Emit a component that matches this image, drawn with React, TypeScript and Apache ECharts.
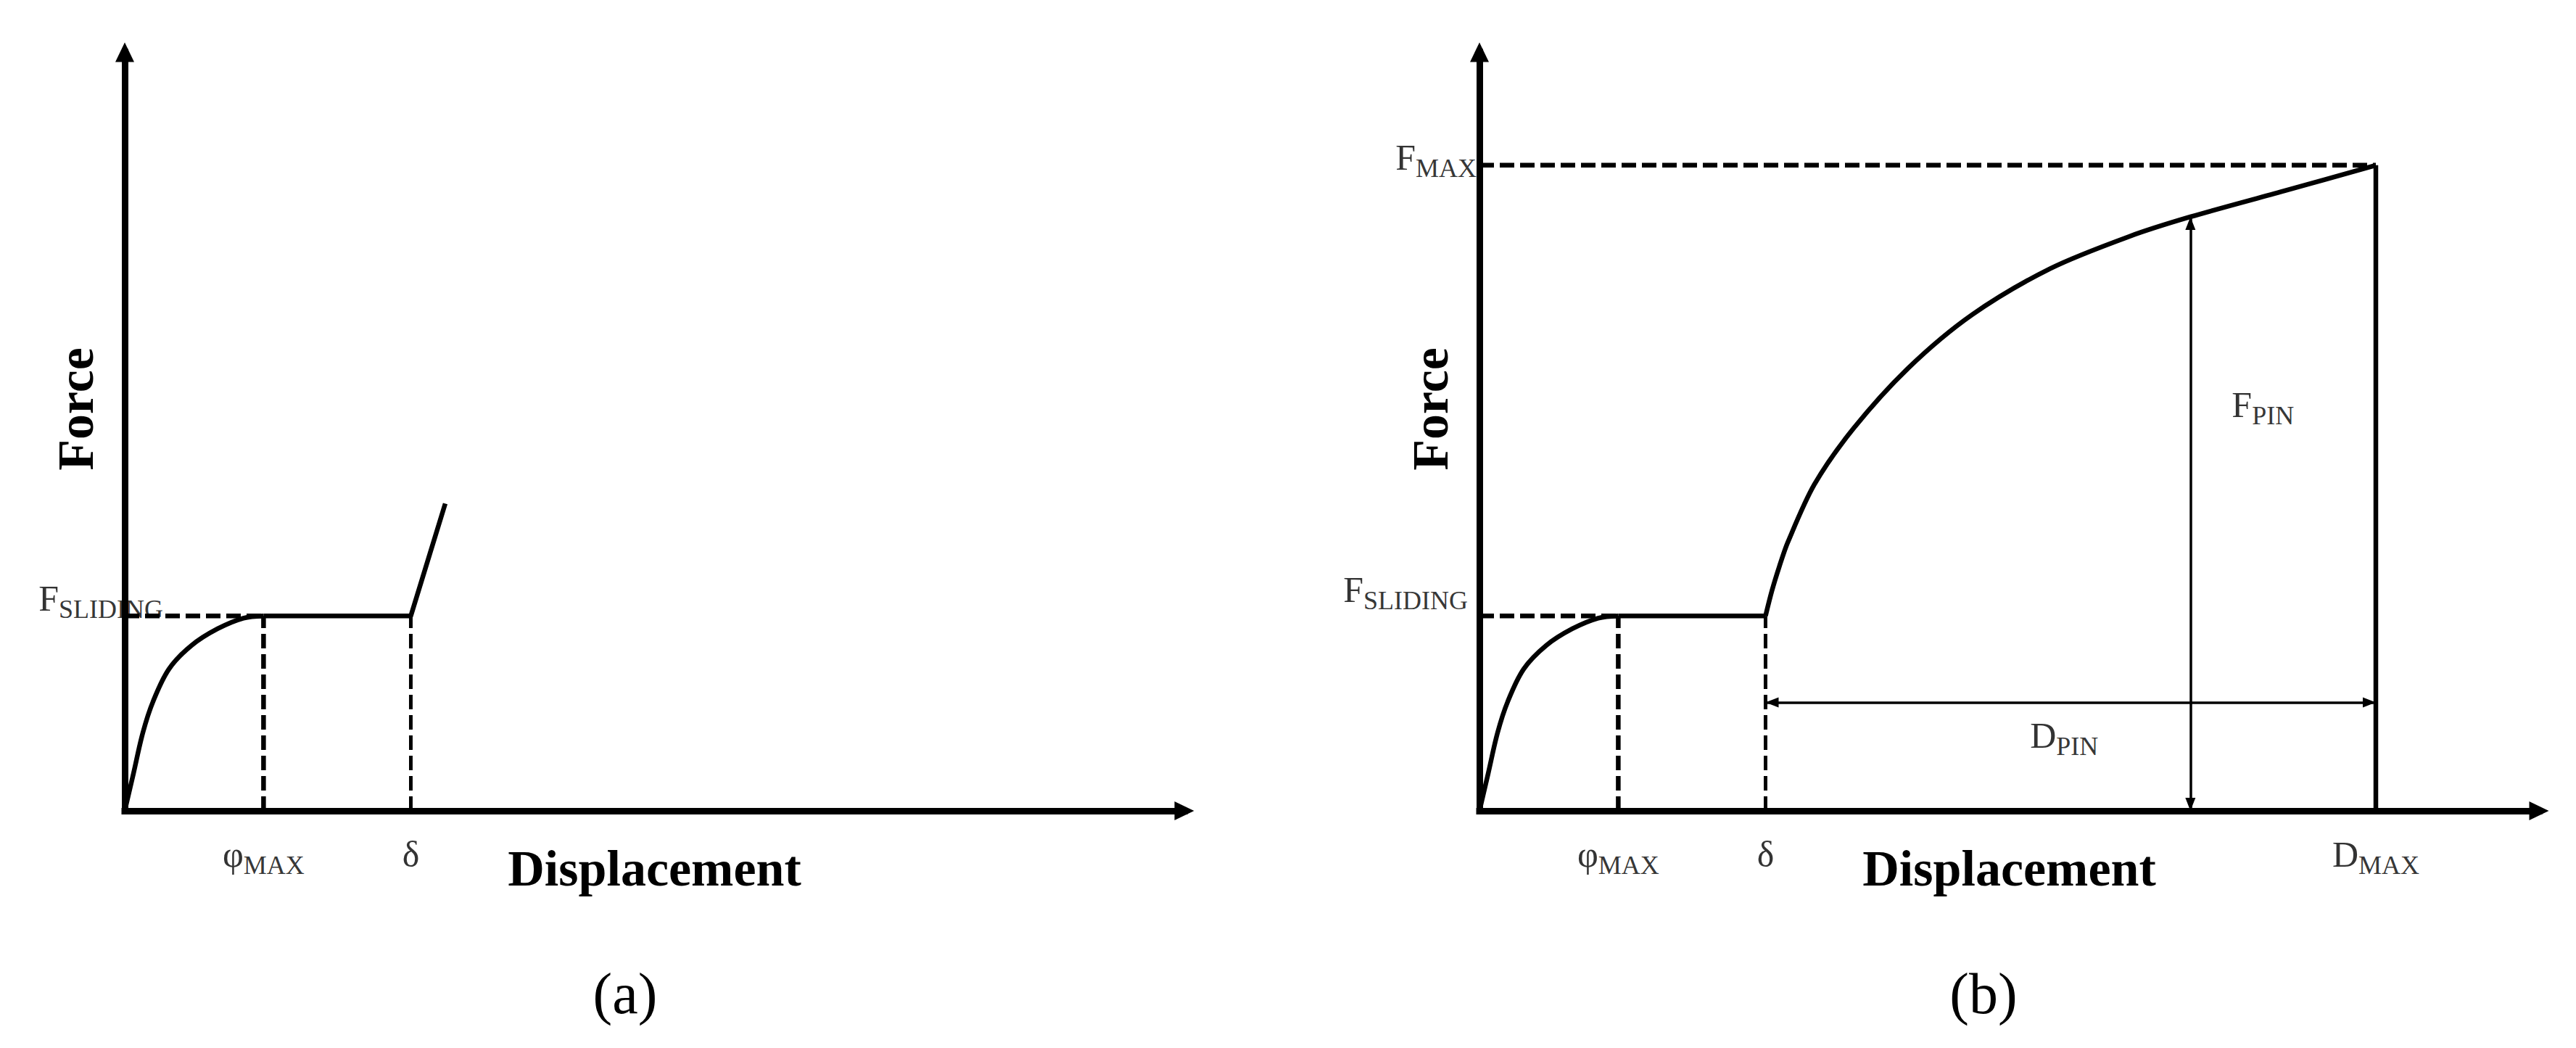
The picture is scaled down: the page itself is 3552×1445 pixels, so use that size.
import React, { useEffect, useRef } from 'react';
import * as echarts from 'echarts';

const W = 3552;
const H = 1445;
const SERIF = '"Liberation Serif", "Times New Roman", Times, serif';

// ---- data (axis units: 0..100 on both axes) ----
const PHI_MAX = 13.1;      // displacement at end of initial rise
const DELTA = 27.0;        // displacement at end of sliding plateau
const D_MAX = 84.6;        // maximum displacement (panel b)
const F_PIN_X = 67.1;      // position of F_PIN arrow (panel b)
const F_SLIDING = 25.7;    // sliding force level
const F_MAX = 85.1;        // maximum force (panel b)
const D_PIN_Y = 14.3;      // height of D_PIN arrow (panel b)

const riseCurve = [
  [0, 0], [0.82, 4.9], [1.71, 10.3], [2.67, 14.4], [4.18, 18.7],
  [6.3, 21.8], [8.76, 24.0], [11.2, 25.4], [13.1, 25.7],
];
const plateau = [[PHI_MAX, F_SLIDING], [DELTA, F_SLIDING]];
const slipEndA = [30.25, 40.5];
const pinCurve = [
  [27.0, 25.7], [27.6, 29.0], [28.3, 32.2], [29.1, 35.4], [31.6, 43.0],
  [35.3, 50.4], [40.5, 58.4], [46.5, 65.4], [53.9, 71.5], [61.3, 75.7],
  [67.1, 78.3], [75.9, 81.7], [84.6, 85.1],
];
const PIN_TOP = (pinCurve.find((p) => p[0] === F_PIN_X) || [0, 78.3])[1];

const xMarksA = [PHI_MAX, DELTA];
const xMarkTextsA = [['φ', 'MAX'], ['δ', '']];
const xMarksB = [PHI_MAX, DELTA, D_MAX];
const xMarkTextsB = [['φ', 'MAX'], ['δ', ''], ['D', 'MAX']];
const AXIS_X_NAME = 'Displacement';
const AXIS_Y_NAME = 'Force';
const CAPTIONS = ['(a)', '(b)'];

const rich = {
  m: { fontFamily: SERIF, fontSize: 50, color: '#000', padding: [0, 0, 30, 0] },
  s: { fontFamily: SERIF, fontSize: 36, color: '#000' },
};
const sub = (main: string, s: string) => (s ? `{m|${main}}{s|${s}}` : `{m|${main}}`);

function axisLineCfg() {
  return {
    show: true,
    onZero: false,
    symbol: ['none', 'triangle'],
    symbolSize: [26, 27],
    lineStyle: { color: '#000', width: 9, cap: 'square' },
  };
}

function xAxis(i: number) {
  return {
    type: 'value', gridIndex: i, min: 0, max: 100,
    axisLine: axisLineCfg(),
    axisTick: { show: false }, axisLabel: { show: false }, splitLine: { show: false },
    name: AXIS_X_NAME, nameLocation: 'middle', nameGap: 44,
    nameTextStyle: { fontFamily: SERIF, fontWeight: 'bold', fontSize: 70, color: '#000' },
  };
}
function yAxis(i: number) {
  return {
    type: 'value', gridIndex: i, min: 0, max: 100,
    axisLine: axisLineCfg(),
    axisTick: { show: false }, axisLabel: { show: false }, splitLine: { show: false },
    name: AXIS_Y_NAME, nameLocation: 'middle', nameGap: 33, nameRotate: 90,
    nameTextStyle: { fontFamily: SERIF, fontWeight: 'bold', fontSize: 70, color: '#000', padding: [0, 0, 0, 62] },
  };
}

function lineSeries(i: number, data: number[][], opts: any = {}) {
  return {
    type: 'line', xAxisIndex: i, yAxisIndex: i, data,
    symbol: 'none', showSymbol: false, silent: true, z: 3,
    lineStyle: { color: '#000', width: opts.width || 6.5, type: opts.dash || 'solid', cap: 'butt', join: 'round' },
    smooth: opts.smooth || false,
    ...(opts.extra || {}),
  };
}

function labelItem(value: number[], text: string, position: string, offset: number[]) {
  return {
    value,
    label: { show: true, formatter: text, rich, position, distance: 0, offset },
  };
}

function labelSeries(i: number, items: any[]) {
  return {
    type: 'scatter', xAxisIndex: i, yAxisIndex: i, symbolSize: 0, clip: false, silent: true, z: 1,
    itemStyle: { color: 'rgba(0,0,0,0)' },
    label: { show: true, color: '#000' },
    data: items,
  };
}

const DASH = [20, 8];

function buildOption() {
  const grids = [
    { left: 172, top: 72, width: 1461, height: 1046 },
    { left: 2040, top: 72, width: 1461, height: 1046 },
  ];

  const series: any[] = [];
  // ---- panel a ----
  series.push(lineSeries(0, riseCurve, { smooth: 0.35 }));
  series.push(lineSeries(0, [...plateau, slipEndA]));
  series.push(lineSeries(0, [[0, F_SLIDING], [PHI_MAX, F_SLIDING]], { dash: DASH }));
  series.push(lineSeries(0, [[PHI_MAX, 0], [PHI_MAX, F_SLIDING]], { dash: DASH }));
  series.push(lineSeries(0, [[DELTA, 0], [DELTA, F_SLIDING]], { dash: DASH, width: 5 }));
  series.push(labelSeries(0, [
    labelItem([0, F_SLIDING], sub('F', 'SLIDING'), 'left', [53, -9]),
    ...xMarksA.map((x, k) => labelItem([x, 0], sub(xMarkTextsA[k][0], xMarkTextsA[k][1]), 'bottom', [0, 35])),
  ]));

  // ---- panel b ----
  series.push(lineSeries(1, riseCurve, { smooth: 0.35 }));
  series.push(lineSeries(1, plateau));
  series.push(lineSeries(1, pinCurve, { smooth: 0.3 }));
  series.push(lineSeries(1, [[0, F_SLIDING], [PHI_MAX, F_SLIDING]], { dash: DASH }));
  series.push(lineSeries(1, [[PHI_MAX, 0], [PHI_MAX, F_SLIDING]], { dash: DASH }));
  series.push(lineSeries(1, [[DELTA, 0], [DELTA, F_SLIDING]], { dash: DASH, width: 5 }));
  series.push(lineSeries(1, [[0, F_MAX], [D_MAX, F_MAX]], { dash: DASH }));
  series.push(lineSeries(1, [[D_MAX, 0], [D_MAX, F_MAX]], {
    extra: {
      markLine: {
        silent: true,
        symbol: ['triangle', 'triangle'],
        symbolSize: [14, 18],
        symbolOffset: [[0, 9], [0, 9]],
        lineStyle: { color: '#000', width: 3.5, type: 'solid' },
        label: { show: false },
        emphasis: { disabled: true },
        data: [
          [{ coord: [DELTA, D_PIN_Y] }, { coord: [D_MAX, D_PIN_Y] }],
          [{ coord: [F_PIN_X, 0] }, { coord: [F_PIN_X, PIN_TOP] }],
        ],
      },
    },
  }));
  series.push(labelSeries(1, [
    labelItem([0, F_SLIDING], sub('F', 'SLIDING'), 'left', [-16, -21]),
    labelItem([0, F_MAX], sub('F', 'MAX'), 'left', [-4, 4]),
    ...xMarksB.map((x, k) => labelItem([x, 0], sub(xMarkTextsB[k][0], xMarkTextsB[k][1]), 'bottom', [0, 35])),
    labelItem([(DELTA + D_MAX) / 2, D_PIN_Y], sub('D', 'PIN'), 'bottom', [-9, 21]),
    labelItem([F_PIN_X, PIN_TOP / 2], sub('F', 'PIN'), 'right', [57, -135]),
  ]));

  return {
    animation: false,
    backgroundColor: '#fff',
    grid: grids,
    xAxis: [xAxis(0), xAxis(1)],
    yAxis: [yAxis(0), yAxis(1)],
    series,
    graphic: CAPTIONS.map((t, k) => ({
      type: 'text',
      x: k === 0 ? 862 : 2735,
      y: 1370,
      style: {
        text: t, fontFamily: SERIF, fontSize: 80, fill: '#000',
        align: 'center', verticalAlign: 'middle', textAlign: 'center', textVerticalAlign: 'middle',
      },
    })),
  };
}

export default function App() {
  const ref = useRef<HTMLDivElement>(null);
  useEffect(() => {
    if (!ref.current) return;
    const chart = echarts.init(ref.current, null, { renderer: 'svg' });
    chart.setOption(buildOption() as any);
    return () => chart.dispose();
  }, []);
  return (
    <div
      ref={ref}
      style={{ position: 'absolute', left: 0, top: 0, width: W, height: H, background: '#fff' }}
    />
  );
}
